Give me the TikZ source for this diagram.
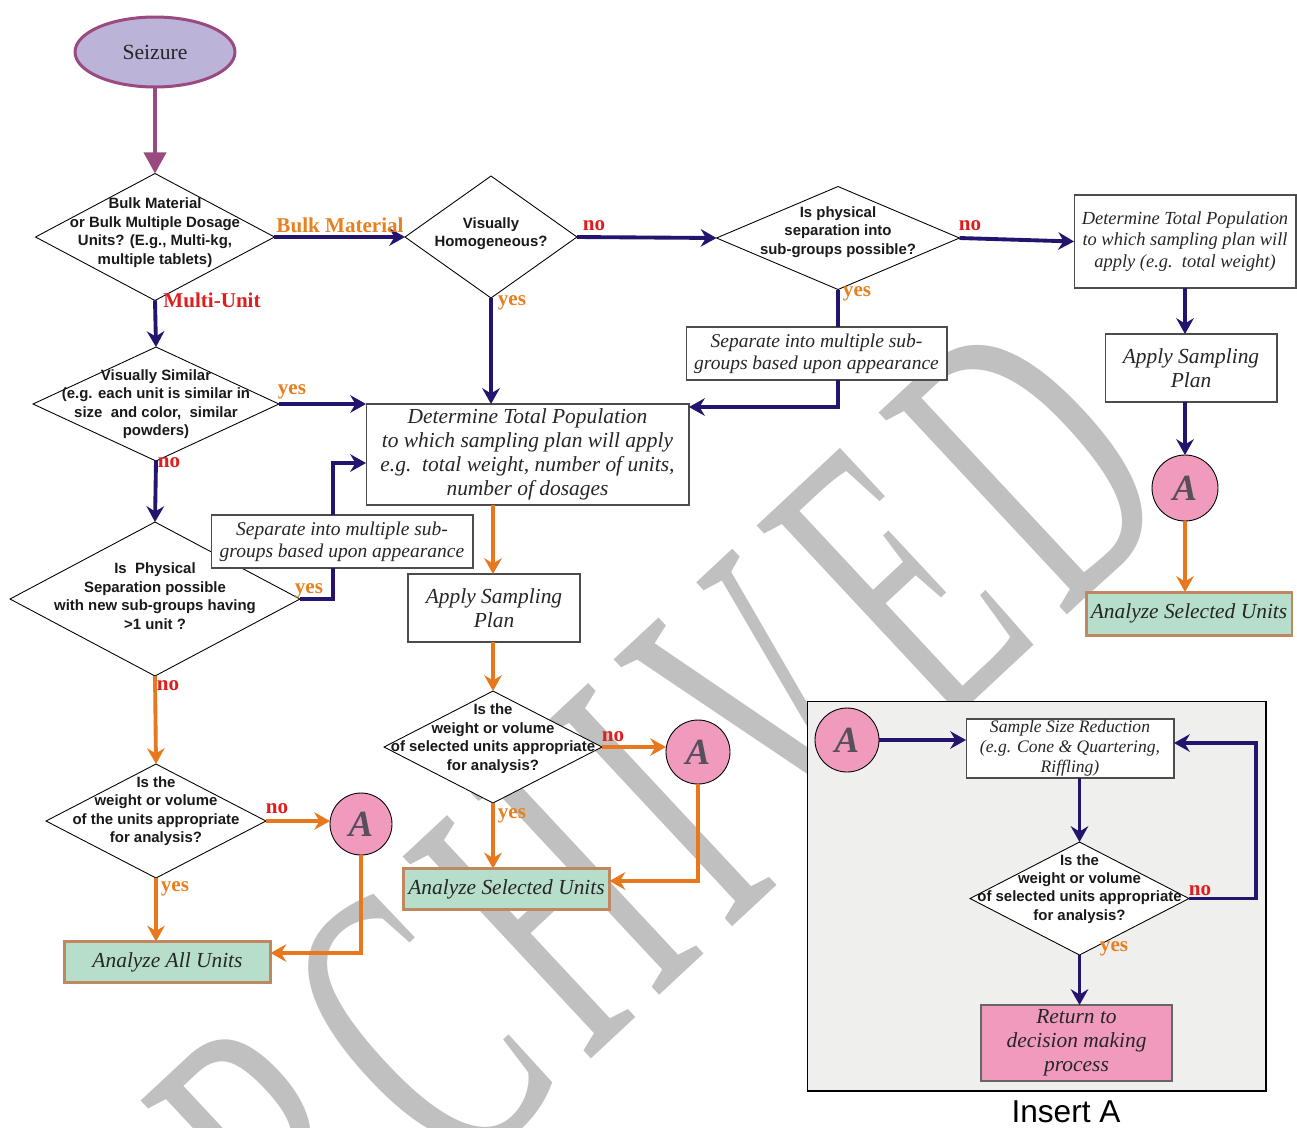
\documentclass[tikz,border=0pt]{standalone}
\usepackage{fontspec}
\setmainfont{Liberation Serif}
\setsansfont{Liberation Sans}
\usetikzlibrary{shapes.geometric,arrows.meta,calc}
\definecolor{navyc}{RGB}{36,20,110}
\definecolor{orngc}{RGB}{232,120,30}
\definecolor{redc}{RGB}{225,30,30}
\definecolor{yesc}{RGB}{232,128,32}
\definecolor{pinkc}{RGB}{240,155,190}
\definecolor{mintc}{RGB}{182,222,202}
\definecolor{tanc}{RGB}{192,136,96}
\definecolor{insc}{RGB}{239,239,237}
\definecolor{letc}{RGB}{88,78,92}
\definecolor{lavc}{RGB}{187,179,216}
\definecolor{plumc}{RGB}{155,74,128}
\definecolor{wmc}{RGB}{192,192,192}
\newcommand{\wmgap}{\kern25pt}
\tikzset{
 dia/.style={diamond,draw=black,fill=white,line width=0.5pt,inner sep=0pt,outer sep=0pt},
 dtxt/.style={font=\sffamily\bfseries\fontsize{8.5}{10.5}\selectfont,align=center,inner sep=0pt,text=black!90},
 box/.style={rectangle,draw=black!70,fill=white,line width=0.6pt,inner sep=0pt,outer sep=0pt,align=center,text=black!85,font=\itshape\fontsize{12.2}{13.7}\selectfont},
 ana/.style={box,draw=tanc,fill=mintc,line width=1.7pt},
 circA/.style={circle,draw=black,fill=pinkc,line width=0.5pt,inner sep=0pt,outer sep=0pt,text=letc,font=\bfseries\itshape\fontsize{21}{21}\selectfont},
 navy/.style={draw=navyc,line width=2.2pt,-{Stealth[length=9pt,width=10pt,inset=3pt]}},
 navyl/.style={draw=navyc,line width=2.2pt},
 orng/.style={draw=orngc,line width=2.2pt,-{Stealth[length=9pt,width=10pt,inset=3pt]}},
 ylab/.style={text=yesc,font=\bfseries\fontsize{12}{12}\selectfont,inner sep=0pt},
 nlab/.style={ylab,text=redc},
 wmark/.style={text=wmc,font=\fontsize{240}{240}\selectfont,inner sep=0pt}
}
\begin{document}
\begin{tikzpicture}[x=0.02cm,y=-0.02cm]
 \useasboundingbox[fill=white] (0,0) rectangle (1297,1127);
 \node[wmark,rotate=43,anchor=base east] (wm) at (1185,505) {\scalebox{0.55}[1]{A\wmgap R\wmgap C\wmgap H\wmgap I\wmgap V\wmgap E\wmgap D}};
 \node[ellipse,draw=plumc,fill=lavc,line width=1.7pt,minimum width=3.2cm,minimum height=1.4cm,inner sep=0pt,text=black!85,font=\fontsize{12.3}{12.3}\selectfont] (seiz) at (155,52) {Seizure};
 \node[dia,minimum width=4.78cm,minimum height=2.54cm,label={[dtxt,yshift=2.5pt]center:{Bulk Material\\or Bulk Multiple Dosage\\Units? (E.g., Multi-kg,\\multiple tablets)}}] (d1) at (155,237) {};
 \node[dia,minimum width=3.44cm,minimum height=2.44cm,label={[dtxt,yshift=2pt]center:{Visually\\Homogeneous?}}] (d2) at (491,237) {};
 \node[dia,minimum width=4.86cm,minimum height=2.06cm,label={[dtxt,yshift=3.4pt]center:{Is physical\\separation into\\sub-groups possible?}}] (d3) at (838,238) {};
 \node[box,minimum width=4.44cm,minimum height=1.86cm,font=\itshape\fontsize{10.5}{12}\selectfont] (r1) at (1185,241.5) {Determine Total Population\\to which sampling plan will\\apply (e.g.\ \ total weight)};
 \node[box,minimum width=3.44cm,minimum height=1.36cm] (r2) at (1191,368) {Apply Sampling\\Plan};
 \node[circA,minimum size=1.32cm] (cA1) at (1185,488) {A};
 \node[ana,minimum width=4.12cm,minimum height=0.86cm] (an1) at (1189,613.5) {Analyze Selected Units};
 \node[box,minimum width=6.46cm,minimum height=2.02cm] (m) at (527.5,454.5) {Determine Total Population\\to which sampling plan will apply\\e.g.\ \ total weight, number of units,\\number of dosages};
 \node[box,minimum width=5.22cm,minimum height=1.06cm,font=\itshape\fontsize{11.1}{12.5}\selectfont] (s1) at (816.5,353.5) {Separate into multiple sub-\\groups based upon appearance};
 \node[dia,minimum width=4.92cm,minimum height=2.28cm,label={[dtxt]center:{Visually Similar\\(e.g. each unit is similar in\\size\ \ and color,\ \ similar\\powders)}}] (d4) at (156,404) {};
 \node[dia,minimum width=5.8cm,minimum height=3.08cm,label={[dtxt,yshift=1.7pt]center:{Is\ \ Physical\\Separation possible\\with new sub-groups having\\>1 unit ?}}] (d5) at (155,599) {};
 \node[box,minimum width=5.24cm,minimum height=1.06cm,font=\itshape\fontsize{11.1}{12.5}\selectfont] (s2) at (342,541.5) {Separate into multiple sub-\\groups based upon appearance};
 \node[dia,minimum width=4.4cm,minimum height=2.28cm,label={[dtxt,yshift=5.5pt]center:{Is the\\weight or volume\\of the units appropriate\\for analysis?}}] (d6) at (156,821) {};
 \node[circA,minimum size=1.24cm] (cA2) at (361,824) {A};
 \node[ana,minimum width=4.12cm,minimum height=0.82cm] (an2) at (167.5,962) {Analyze All Units};
 \node[box,minimum width=3.44cm,minimum height=1.36cm] (p) at (494,608) {Apply Sampling\\Plan};
 \node[dia,minimum width=4.36cm,minimum height=2.24cm,label={[dtxt,yshift=4.8pt]center:{Is the\\weight or volume\\of selected units appropriate\\for analysis?}}] (d7) at (493,747) {};
 \node[circA,minimum size=1.28cm] (cA3) at (698,752) {A};
 \node[ana,minimum width=4.12cm,minimum height=0.82cm] (an3) at (506.5,889) {Analyze Selected Units};
 \node[draw=black,fill=insc,line width=0.6pt,minimum width=9.18cm,minimum height=7.8cm,inner sep=0pt,outer sep=0pt] (ins) at (1036.5,896) {};
 \node[font=\sffamily\fontsize{18}{18}\selectfont,inner sep=0pt] (insl) at (1066,1112) {Insert A};
 \node[circA,minimum size=1.28cm] (cA4) at (847,740) {A};
 \node[box,minimum width=4.16cm,minimum height=1.18cm,font=\itshape\fontsize{10}{11.4}\selectfont] (sr) at (1070,748.5) {Sample Size Reduction\\(e.g. Cone \& Quartering,\\Riffling)};
 \node[dia,minimum width=4.38cm,minimum height=2.26cm,label={[dtxt,yshift=5.5pt]center:{Is the\\weight or volume\\of selected units appropriate\\for analysis?}}] (d8) at (1079.5,898.5) {};
 \node[box,draw=black!60,fill=pinkc,line width=0.9pt,minimum width=3.82cm,minimum height=1.52cm] (ret) at (1076.5,1043) {Return to\\decision making\\process};
 \draw[draw=plumc,line width=2.2pt,-{Triangle[length=12pt,width=12.5pt]}] (seiz.south) -- (d1.north);
 \draw[navy] (d1.east) -- (d2.west);
 \draw[navy] (d2.east) -- (d3.west);
 \draw[navy] (d3.east) -- (r1.west);
 \draw[navy] (r1.south) -- (r1.south |- r2.north);
 \draw[navy] (r2.south -| cA1) -- (cA1.north);
 \draw[orng] (cA1.south) -- (cA1.south |- an1.north);
 \draw[navy] (d2.south) -- (d2.south |- m.north);
 \draw[navyl] (d3.south) -- (d3.south |- s1.north);
 \draw[navy] (d3.south |- s1.south) |- ($(m.north east)+(0,3)$);
 \draw[navy] (d1.south) -- (d4.north);
 \draw[navy] (d4.east) -- (d4.east -| m.west);
 \draw[navy] (d4.south) -- (d5.north);
 \coordinate (j5) at (333,463);
 \draw[navyl] (d5.east) -| (s2.south -| j5);
 \draw[navy] (s2.north -| j5) |- (m.west |- j5);
 \draw[orng] (d5.south) -- (d6.north);
 \draw[orng] (d6.east) -- (d6.east -| cA2.west);
 \draw[orng] (d6.south) -- (d6.south |- an2.north);
 \draw[orng] (cA2.south) |- ($(an2.east)+(0,-9)$);
 \draw[orng] (d7.north |- m.south) -- (d7.north |- p.north);
 \draw[orng] (p.south -| d7.north) -- (d7.north);
 \draw[orng] (d7.east) -- (d7.east -| cA3.west);
 \draw[orng] (d7.south) -- (d7.south |- an3.north);
 \draw[orng] (cA3.south) |- ($(an3.east)+(0,-8)$);
 \draw[navy] (cA4.east) -- (cA4.east -| sr.west);
 \draw[navy] (d8.north |- sr.south) -- (d8.north);
 \draw[navy] (d8.east) -- ++(67,0) |- ($(sr.east)+(0,-5.5)$);
 \draw[navy] (d8.south) -- (d8.south |- ret.north);
 \node[ylab] (l1) at (340,225) {Bulk Material};
 \node[nlab] (l2) at (594,226) {no};
 \node[nlab] (l3) at (970,226) {no};
 \node[ylab] (l4) at (512,303) {yes};
 \node[ylab] (l5) at (857,294) {yes};
 \node[nlab] (l6) at (212,300) {Multi-Unit};
 \node[ylab] (l7) at (292,392) {yes};
 \node[nlab] (l8) at (169,463) {no};
 \node[ylab] (l9) at (309,591) {yes};
 \node[nlab] (l10) at (168,686) {no};
 \node[nlab] (l11) at (277,809) {no};
 \node[ylab] (l12) at (175,889) {yes};
 \node[nlab] (l13) at (613,737) {no};
 \node[ylab] (l14) at (512,816) {yes};
 \node[nlab] (l15) at (1200,891) {no};
 \node[ylab] (l16) at (1114,949) {yes};
\end{tikzpicture}
\end{document}
